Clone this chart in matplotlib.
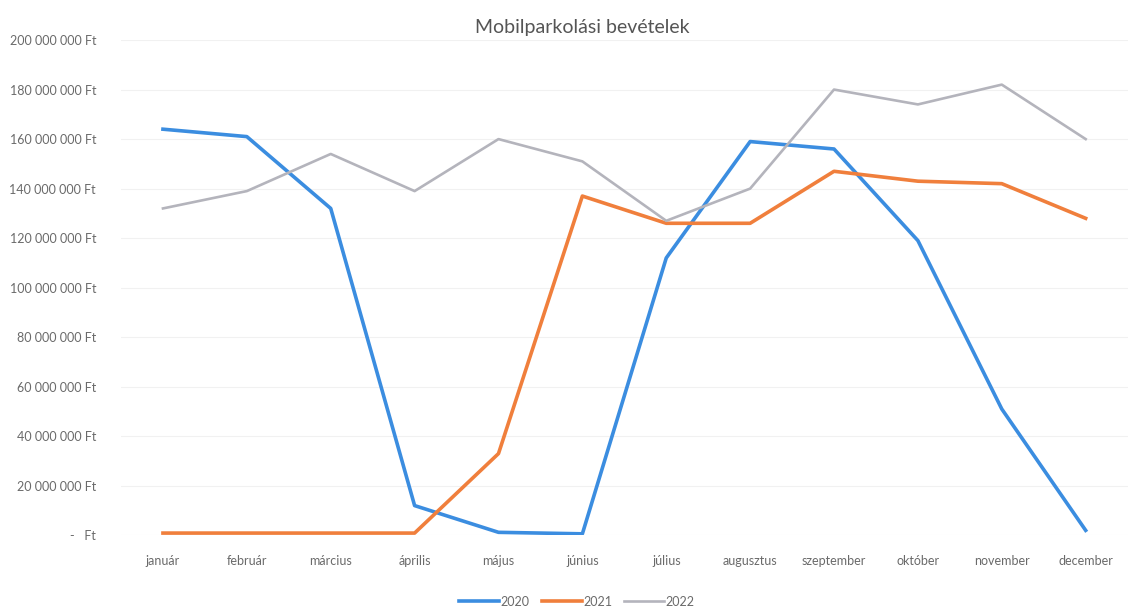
import matplotlib.pyplot as plt
from matplotlib.ticker import FuncFormatter

# Monthly mobile parking revenue (Ft)
months = ['január', 'február', 'március', 'április', 'május', 'június',
          'július', 'augusztus', 'szeptember', 'október', 'november', 'december']
rev_2020 = [164e6, 161e6, 132e6, 12e6, 1.2e6, 0.6e6,
            112e6, 159e6, 156e6, 119e6, 51e6, 2e6]
rev_2021 = [0.9e6, 0.9e6, 0.9e6, 0.9e6, 33e6, 137e6,
            126e6, 126e6, 147e6, 143e6, 142e6, 128e6]
rev_2022 = [132e6, 139e6, 154e6, 139e6, 160e6, 151e6,
            127e6, 140e6, 180e6, 174e6, 182e6, 160e6]
years = ['2020', '2021', '2022']

plt.rcParams['font.family'] = ['Lato', 'DejaVu Sans']

fig = plt.figure(figsize=(11.31, 6.16), dpi=100)
ax = fig.add_axes([0.107, 0.131, 0.89, 0.804])

x = range(len(months))
ax.plot(x, rev_2020, color='#3b8de0', lw=2.6, label=years[0])
ax.plot(x, rev_2021, color='#f07f3c', lw=2.6, label=years[1])
ax.plot(x, rev_2022, color='#b4b4bc', lw=1.9, label=years[2])


def ft(v, pos):
    if v == 0:
        return '-   Ft'
    return f'{int(v):,} Ft'.replace(',', ' ')


ax.set_ylim(0, 200e6)
ax.set_yticks(range(0, 200000001, 20000000))
ax.yaxis.set_major_formatter(FuncFormatter(ft))
ax.set_xlim(-0.5, 11.5)
ax.set_xticks(list(x))
ax.set_xticklabels(months)

ax.grid(axis='y', color='#f1f1f1', lw=0.8)
ax.set_axisbelow(True)
for s in ax.spines.values():
    s.set_visible(False)
ax.tick_params(length=0, colors='#6a6a6a', labelsize=9)
ax.tick_params(axis='x', pad=14)
ax.tick_params(axis='y', pad=18)

fig.text(0.515, 0.955, 'Mobilparkolási bevételek', ha='center', va='center',
         fontsize=14, color='#555555')

fig.legend(loc='lower center', bbox_to_anchor=(0.51, -0.005), ncol=3,
           frameon=False, fontsize=9, labelcolor='#6a6a6a',
           handlelength=3.2, columnspacing=1.0, handletextpad=0.1)

fig.savefig('out.png', dpi=100, facecolor='white')
